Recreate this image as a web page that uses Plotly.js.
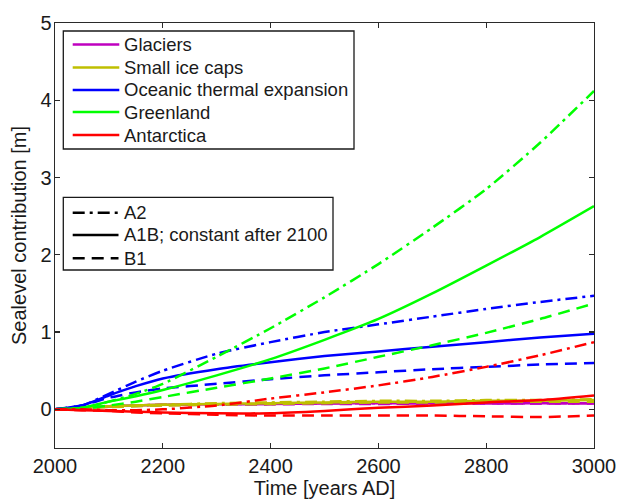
<!DOCTYPE html>
<html>
<head>
<meta charset="utf-8">
<script src="https://cdn.plot.ly/plotly-3.0.1.min.js"></script>
<style>html,body{margin:0;padding:0;background:#fff;}#chart{width:620px;height:499px;}</style>
</head>
<body>
<div id="chart"></div>
<script>
// ---- data ----
const years = [2000, 2050, 2100, 2150, 2200, 2300, 2400, 2500, 2600, 2700, 2800, 2900, 3000];

const glaciersA2  = [0, 0.02, 0.04, 0.05, 0.06, 0.07, 0.07, 0.08, 0.08, 0.08, 0.08, 0.08, 0.08];
const glaciersA1B = [0, 0.02, 0.04, 0.05, 0.06, 0.065, 0.07, 0.075, 0.08, 0.08, 0.08, 0.08, 0.08];
const glaciersB1  = [0, 0.02, 0.035, 0.045, 0.055, 0.06, 0.065, 0.07, 0.07, 0.075, 0.075, 0.075, 0.075];

const capsA2  = [0, 0.02, 0.04, 0.05, 0.06, 0.08, 0.09, 0.10, 0.11, 0.11, 0.12, 0.12, 0.13];
const capsA1B = [0, 0.02, 0.04, 0.05, 0.06, 0.07, 0.08, 0.09, 0.10, 0.10, 0.11, 0.11, 0.12];
const capsB1  = [0, 0.02, 0.03, 0.04, 0.05, 0.06, 0.07, 0.08, 0.09, 0.09, 0.10, 0.10, 0.10];

const oceanA2  = [0, 0.05, 0.20, 0.36, 0.50, 0.72, 0.87, 1.00, 1.10, 1.20, 1.30, 1.39, 1.47];
const oceanA1B = [0, 0.05, 0.18, 0.30, 0.40, 0.52, 0.61, 0.69, 0.75, 0.81, 0.87, 0.93, 0.98];
const oceanB1  = [0, 0.05, 0.15, 0.22, 0.27, 0.33, 0.39, 0.44, 0.48, 0.52, 0.55, 0.58, 0.60];

const greenA2  = [0, 0.02, 0.10, 0.20, 0.33, 0.68, 1.05, 1.45, 1.88, 2.35, 2.85, 3.45, 4.12];
const greenA1B = [0, 0.02, 0.10, 0.17, 0.25, 0.44, 0.65, 0.90, 1.17, 1.50, 1.86, 2.23, 2.63];
const greenB1  = [0, 0.01, 0.05, 0.10, 0.16, 0.28, 0.40, 0.53, 0.68, 0.83, 0.99, 1.17, 1.37];

const antA2  = [0, 0, -0.01, -0.01, 0.00, 0.05, 0.14, 0.22, 0.31, 0.42, 0.55, 0.70, 0.87];
const antA1B = [0, -0.01, -0.02, -0.03, -0.04, -0.05, -0.05, -0.02, 0.02, 0.05, 0.09, 0.12, 0.18];
const antB1  = [0, -0.01, -0.02, -0.04, -0.05, -0.07, -0.08, -0.08, -0.08, -0.08, -0.09, -0.10, -0.08];

const componentNames = ['Glaciers', 'Small ice caps', 'Oceanic thermal expansion', 'Greenland', 'Antarctica'];
const scenarioNames = ['A2', 'A1B; constant after 2100', 'B1'];
const xTicks = [2000, 2200, 2400, 2600, 2800, 3000];
const yTicks = [0, 1, 2, 3, 4, 5];

// ---- styles ----
const colors = ['#bf00bf', '#bfbf00', '#0000ff', '#00ff00', '#ff0000'];
const dashes = ['12px,5px,3px,5px', 'solid', '12px,7px'];
const series = [
  [glaciersA2, glaciersA1B, glaciersB1],
  [capsA2, capsA1B, capsB1],
  [oceanA2, oceanA1B, oceanB1],
  [greenA2, greenA1B, greenB1],
  [antA2, antA1B, antB1]
];

const traces = [];
series.forEach((group, ci) => {
  group.forEach((vals, si) => {
    traces.push({
      x: years, y: vals, type: 'scatter', mode: 'lines',
      name: componentNames[ci] + ' (' + scenarioNames[si] + ')',
      line: {color: colors[ci], width: 2.5, dash: dashes[si], shape: 'spline', smoothing: 0.6},
      showlegend: false, hoverinfo: 'skip'
    });
  });
});

// ---- layout geometry (pixels) ----
const W = 620, H = 499;
const M = {l: 55, r: 26, t: 23, b: 51};
const pw = W - M.l - M.r, ph = H - M.t - M.b;
const px = v => (v - M.l) / pw;
const py = v => (H - M.b - v) / ph;

const fontFam = 'Liberation Sans, Arial, sans-serif';
const txtColor = '#1a1a1a';
const shapes = [];
const annotations = [];

function buildLegend(box, rows, names, lineColors, lineDashes) {
  shapes.push({type: 'rect', xref: 'paper', yref: 'paper', layer: 'above',
    x0: px(box.x0), x1: px(box.x1), y0: py(box.y1), y1: py(box.y0),
    fillcolor: '#ffffff', line: {color: txtColor, width: 1.3}});
  names.forEach((n, i) => {
    shapes.push({type: 'line', xref: 'paper', yref: 'paper', layer: 'above',
      x0: px(box.sx0), x1: px(box.sx1), y0: py(rows[i]), y1: py(rows[i]),
      line: {color: lineColors[i], width: 2.5, dash: lineDashes[i]}});
    annotations.push({xref: 'paper', yref: 'paper', x: px(box.tx), y: py(rows[i]),
      xanchor: 'left', yanchor: 'middle', showarrow: false, text: n,
      font: {family: fontFam, size: 18.5, color: txtColor}});
  });
}

buildLegend({x0: 63.3, x1: 354, y0: 31, y1: 149, sx0: 72.7, sx1: 119.3, tx: 122},
  [44.5, 67.5, 90, 112, 135], componentNames, colors, ['solid', 'solid', 'solid', 'solid', 'solid']);
buildLegend({x0: 63.3, x1: 333, y0: 197.3, y1: 270, sx0: 72.7, sx1: 118.5, tx: 122},
  [212.7, 235, 258.3], scenarioNames, ['#000000', '#000000', '#000000'], dashes);

const axisCommon = {
  showgrid: false, zeroline: false, showline: true, linecolor: '#2a2a2a', linewidth: 1.3,
  mirror: 'ticks', ticks: 'inside', ticklen: 5, tickwidth: 1.3, tickcolor: '#2a2a2a',
  tickfont: {family: fontFam, size: 20, color: txtColor}
};

const layout = {
  width: W, height: H,
  margin: M,
  paper_bgcolor: '#ffffff', plot_bgcolor: '#ffffff',
  font: {family: fontFam, color: txtColor},
  xaxis: Object.assign({}, axisCommon, {
    range: [2000, 3000], tickvals: xTicks, ticktext: xTicks.map(String),
    title: {text: 'Time [years AD]', font: {family: fontFam, size: 20, color: txtColor}, standoff: 2}
  }),
  yaxis: Object.assign({}, axisCommon, {
    range: [-0.5, 5], tickvals: yTicks, ticktext: yTicks.map(String), ticklabelstandoff: -2,
    title: {text: 'Sealevel contribution [m]', font: {family: fontFam, size: 20, color: txtColor}, standoff: 8}
  }),
  shapes: shapes,
  annotations: annotations,
  showlegend: false
};

Plotly.newPlot('chart', traces, layout, {staticPlot: true, displayModeBar: false});
</script>
</body>
</html>
